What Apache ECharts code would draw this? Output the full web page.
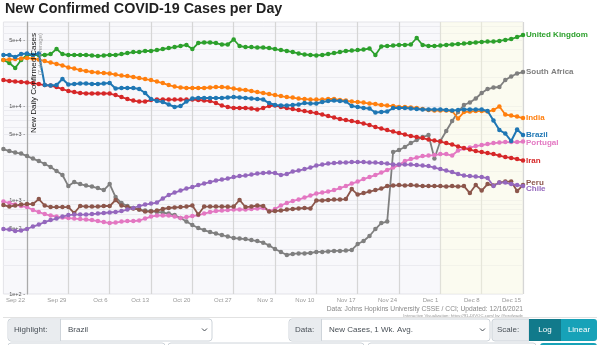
<!DOCTYPE html>
<html><head><meta charset="utf-8">
<script src="https://cdn.jsdelivr.net/npm/echarts@6/dist/echarts.min.js"></script>
<style>html,body{margin:0;padding:0;background:#fff}#chart{width:600px;height:345px}</style>
</head><body><div id="chart"></div>
<script>
const dates = ["Sep 18","Sep 19","Sep 20","Sep 21","Sep 22","Sep 23","Sep 24","Sep 25","Sep 26","Sep 27","Sep 28","Sep 29","Sep 30",
"Oct 1","Oct 2","Oct 3","Oct 4","Oct 5","Oct 6","Oct 7","Oct 8","Oct 9","Oct 10","Oct 11","Oct 12","Oct 13","Oct 14","Oct 15","Oct 16","Oct 17","Oct 18","Oct 19","Oct 20","Oct 21","Oct 22","Oct 23","Oct 24","Oct 25","Oct 26","Oct 27","Oct 28","Oct 29","Oct 30","Oct 31",
"Nov 1","Nov 2","Nov 3","Nov 4","Nov 5","Nov 6","Nov 7","Nov 8","Nov 9","Nov 10","Nov 11","Nov 12","Nov 13","Nov 14","Nov 15","Nov 16","Nov 17","Nov 18","Nov 19","Nov 20","Nov 21","Nov 22","Nov 23","Nov 24","Nov 25","Nov 26","Nov 27","Nov 28","Nov 29","Nov 30",
"Dec 1","Dec 2","Dec 3","Dec 4","Dec 5","Dec 6","Dec 7","Dec 8","Dec 9","Dec 10","Dec 11","Dec 12","Dec 13","Dec 14","Dec 15"];
const tickLabels = ["Sep 22","Sep 29","Oct 6","Oct 13","Oct 20","Oct 27","Nov 3","Nov 10","Nov 17","Nov 24","Dec 1","Dec 8","Dec 15"];
const yTickValues = [100,500,1000,5000,10000,50000];
const yTickLabels = ["1e+2","5e+2","1e+3","5e+3","1e+4","5e+4"];
const yGridValues = [200,300,400,500,600,700,800,900,1000,2000,3000,4000,5000,6000,7000,8000,9000,10000,20000,30000,40000,50000,60000,70000];
const recentStart = "Dec 1";

const unitedKingdom = [30900,28700,25400,30900,34900,34900,34900,34900,35700,40400,35700,34900,34900,34900,34900,34500,34000,34500,34900,34900,35700,36600,37500,37500,38500,38500,39400,40400,41400,42400,43500,44600,40400,46800,47400,47400,46800,45100,45100,51000,43500,42400,42400,41900,41900,41400,40400,39400,38500,37500,36200,35300,34900,34500,34900,35700,36600,37500,38500,38900,39400,39900,40900,34900,43000,43500,44000,44600,44600,45100,52900,44600,43500,43500,44000,44600,45100,45700,46200,46800,47400,48000,48500,48500,49200,50400,51600,54200,56900];
const southAfrica = [3485,3318,3200,3120,2935,2760,2597,2413,2242,2032,1843,1407,1552,1478,1425,1390,1340,1276,1478,1075,929,863,822,792,773,763,745,736,718,692,643,590,542,503,479,456,440,424,409,394,389,384,375,366,352,328,301,280,260,267,270,270,273,280,280,284,287,287,290,294,340,366,414,491,569,590,3238,3401,3660,4037,4345,4677,4911,2760,4240,5417,6922,8630,10245,10890,12010,13747,15162,15730,15924,18903,20600,22170,22997];
const india = [30900,31240,31600,32000,32400,32000,31200,30100,29000,28000,27000,25700,25050,24150,23570,23000,22700,22440,22170,21630,21100,20850,20350,19850,19370,18900,18220,17560,16720,16120,15730,15540,15540,15540,15540,15730,15920,15920,15730,15350,14980,14800,14440,14090,13750,13410,13090,12770,12460,12310,12010,11870,11720,11720,11720,11870,11870,11580,11440,11160,11030,10890,10630,10500,10250,10120,10000,9760,9760,9640,9520,9290,9060,8950,8950,8950,8840,7360,8630,8740,8840,8840,8740,9060,9880,8120,7920,7730,7450];
const brazil = [34880,34880,33210,35750,36190,34880,36190,16720,16520,16720,19370,16930,17140,17350,17350,17140,17140,17350,17560,15350,15540,15540,15540,15160,13750,11870,11300,11030,10370,9760,10000,11160,12010,12160,12160,12160,12160,12160,12310,12460,12310,12160,12010,11870,11720,10760,10250,10120,10120,10250,10370,10760,10630,10630,11030,11300,11440,11300,11160,10000,9760,9520,9400,8520,8630,8740,9520,9520,9520,9400,9290,9180,9180,9180,9180,9060,8950,9060,9180,9180,9180,9180,8840,7010,5550,5100,4240,5620,4910];
const portugal = [964,929,895,863,842,782,745,709,684,667,651,643,635,627,620,612,597,583,569,576,590,597,597,605,635,667,684,684,684,667,643,659,675,692,718,745,763,773,782,792,792,792,802,812,822,763,802,874,929,976,1011,1062,1115,1171,1200,1230,1276,1340,1407,1496,1571,1671,1754,1843,1959,2083,2214,2354,2597,2727,2830,2935,2971,3008,3083,3083,2971,3359,3528,3616,3751,3844,3939,4037,4087,4137,4137,4137,4188];
const iran = [18900,18450,18220,18000,17780,17560,17140,16720,16520,15920,15160,14440,14090,13750,13580,13580,13580,13580,13580,13090,12460,11870,11440,11160,11160,11580,11720,11720,11720,11720,11720,11720,11720,11580,11440,11300,10760,10120,9760,9520,9520,9520,9400,9180,9520,10000,10120,9760,9520,9290,9060,8840,8630,8420,8120,7820,7540,7270,7090,6920,6750,6510,6280,5980,5760,5550,5350,5160,4970,4790,4680,4560,4400,4290,4190,4040,3890,3710,3570,3440,3320,3240,3160,3080,2970,2860,2800,2730,2630];
const peru = [884,852,874,895,906,906,1023,874,842,842,842,842,727,863,852,852,852,863,863,1000,874,842,812,792,754,754,773,802,822,832,842,852,874,700,852,852,852,852,852,852,1000,842,852,874,863,754,763,773,792,802,812,822,812,988,988,1000,1011,1011,1023,1307,1143,1185,1230,1276,1323,1407,1425,1442,1425,1442,1425,1407,1407,1407,1407,1390,1407,1390,1407,1185,1442,1260,1478,1425,1533,1571,1571,1245,1442];
const chile = [491,485,468,473,491,522,548,583,612,635,667,692,700,700,700,709,718,727,736,745,763,792,822,863,895,917,940,1036,1129,1200,1260,1323,1373,1442,1496,1552,1610,1650,1691,1754,1798,1820,1865,1911,1935,1959,1935,1843,1888,2007,2057,2134,2214,2325,2383,2443,2473,2503,2503,2534,2534,2534,2503,2503,2473,2443,2383,2383,2383,2383,2354,2325,2297,2214,2134,2057,1983,1888,1820,1798,1776,1754,1712,1407,1533,1533,1478,1442,1407];

const FONT = "'Liberation Sans', Arial, Helvetica, sans-serif";
const Y_MIN = 100, Y_MAX = 78300;
const lg = Math.log10;
const countries = [
  {name:"United Kingdom", data:unitedKingdom, color:"#2ca02c", off:[0,0]},
  {name:"South Africa", data:southAfrica, color:"#7f7f7f", off:[0,0]},
  {name:"India", data:india, color:"#ff7f0e", off:[0,0]},
  {name:"Portugal", data:portugal, color:"#e377c2", off:[0,1]},
  {name:"Iran", data:iran, color:"#d62728", off:[0,0]},
  {name:"Peru", data:peru, color:"#8c564b", off:[0,-2]},
  {name:"Chile", data:chile, color:"#9467bd", off:[0,3]},
  {name:"Brazil", data:brazil, color:"#1f77b4", off:[0,0]}
];

const chart = echarts.init(document.getElementById('chart'), null, {renderer:'canvas'});
const isTick = (i, v) => tickLabels.indexOf(v) >= 0;

const series = [];
countries.forEach((c, k) => {
  const s = {
    name:c.name, type:'line', data:c.data.map(lg),
    symbol:'circle', symbolSize:4.5, showAllSymbol:true,
    lineStyle:{width: c.name==='Brazil' ? 2 : 1.8, color:c.color},
    itemStyle:{color:c.color},
    endLabel:{show:true, formatter:c.name, color:c.color, fontSize:8, fontWeight:'bold', fontFamily:FONT, distance:3, offset:c.off},
    emphasis:{disabled:true}, z: c.name==='Brazil' ? 4 : 3
  };
  if (k === 0) {
    s.markArea = {silent:true, itemStyle:{color:'rgba(255,255,225,0.4)'}, data:[[{xAxis:recentStart},{xAxis:dates[dates.length-1]}]]};
  }
  series.push(s);
});

function sel(x, w, labelW, label, value, chevron) {
  const els = [
    {type:'rect', shape:{x:x, y:319, width:w, height:22, r:3}, style:{fill:'#fff', stroke:'#ced4da', lineWidth:1}},
    {type:'rect', shape:{x:x+0.5, y:319.5, width:labelW, height:21, r:[3,0,0,3]}, style:{fill:'#e9ecef'}},
    {type:'line', shape:{x1:x+labelW+0.5, y1:319, x2:x+labelW+0.5, y2:341}, style:{stroke:'#ced4da', lineWidth:1}},
    {type:'text', x:x+6, y:330, style:{text:label, fill:'#495057', fontSize:8, fontFamily:FONT, textVerticalAlign:'middle', verticalAlign:'middle'}}
  ];
  if (value) {
    els.push({type:'text', x:x+labelW+8, y:330, style:{text:value, fill:'#495057', fontSize:8, fontFamily:FONT, textVerticalAlign:'middle', verticalAlign:'middle'}});
  }
  if (chevron) {
    els.push({type:'polyline', shape:{points:[[x+w-10,328.5],[x+w-7.5,331],[x+w-5,328.5]]}, style:{stroke:'#495057', lineWidth:1, fill:null}});
  }
  return els;
}

const graphics = [
  {type:'text', z:50, x:33.5, y:33, rotation:Math.PI/2, style:{text:'New Daily Confirmed Cases', fill:'#111', fontSize:8, fontFamily:FONT, textAlign:'right', align:'right', textVerticalAlign:'middle', verticalAlign:'middle'}},
  {type:'text', z:50, x:40.5, y:33, rotation:Math.PI/2, style:{text:'(7-day average)', fill:'#999', fontSize:6, fontFamily:FONT, textAlign:'right', align:'right', textVerticalAlign:'middle', verticalAlign:'middle'}},
  {type:'text', x:523, y:309, style:{text:'Data: Johns Hopkins University CSSE / CCI; Updated: 12/16/2021', fill:'#888', fontSize:6.7, fontFamily:FONT, textAlign:'right', align:'right', textVerticalAlign:'middle', verticalAlign:'middle'}},
  {type:'text', x:523, y:315.5, style:{text:'Interactive Visualization: https://91-DIVOC.com/ by @profwade', fill:'#999', fontSize:4.3, fontFamily:FONT, textAlign:'right', align:'right', textVerticalAlign:'middle', verticalAlign:'middle'}},
  {type:'line', shape:{x1:3, y1:317.5, x2:597, y2:317.5}, style:{stroke:'#e2e2e2', lineWidth:1}}
].concat(
  sel(8, 204, 52, 'Highlight:', 'Brazil', true),
  sel(289, 201, 32, 'Data:', 'New Cases, 1 Wk. Avg.', true),
  [
    {type:'rect', shape:{x:492, y:319, width:37, height:22, r:[3,0,0,3]}, style:{fill:'#e9ecef', stroke:'#ced4da', lineWidth:1}},
    {type:'text', x:497, y:330, style:{text:'Scale:', fill:'#495057', fontSize:8, fontFamily:FONT, textVerticalAlign:'middle', verticalAlign:'middle'}},
    {type:'rect', shape:{x:529, y:319, width:32, height:22}, style:{fill:'#117a8b'}},
    {type:'text', x:545, y:330, style:{text:'Log', fill:'#fff', fontSize:8, fontFamily:FONT, textAlign:'center', align:'center', textVerticalAlign:'middle', verticalAlign:'middle'}},
    {type:'rect', shape:{x:561, y:319, width:36, height:22, r:[0,3,3,0]}, style:{fill:'#17a2b8'}},
    {type:'text', x:579, y:330, style:{text:'Linear', fill:'#fff', fontSize:8, fontFamily:FONT, textAlign:'center', align:'center', textVerticalAlign:'middle', verticalAlign:'middle'}},
    {type:'rect', shape:{x:8, y:343, width:157, height:6, r:3}, style:{fill:'#fff', stroke:'#ced4da'}},
    {type:'rect', shape:{x:168, y:343, width:196, height:6, r:3}, style:{fill:'#fff', stroke:'#ced4da'}},
    {type:'rect', shape:{x:368, y:343, width:168, height:6, r:3}, style:{fill:'#fff', stroke:'#ced4da'}},
    {type:'rect', shape:{x:540, y:343, width:57, height:6, r:3}, style:{fill:'#17a2b8'}}
  ]
);

const option = {
  animation:false,
  backgroundColor:'#fff',
  textStyle:{fontFamily:FONT},
  title:{text:'New Confirmed COVID-19 Cases per Day', left:5, top:2, padding:0, textStyle:{fontSize:14.3, fontWeight:'bold', color:'#222', fontFamily:FONT}},
  grid:{left:3.4, right:77, top:22, bottom:51, show:true, backgroundColor:'#f8f8fb', borderColor:'#e3e3e8', borderWidth:1},
  xAxis:{type:'category', data:dates, boundaryGap:false,
    axisLine:{show:false}, axisTick:{show:false},
    axisLabel:{interval:isTick, align:'right', color:'#999', fontSize:6, margin:3, padding:[0,2,0,0], fontFamily:FONT},
    splitLine:{show:true, interval:isTick, lineStyle:{color:'#d6d6d6', width:1.2}}
  },
  yAxis:{type:'value', min:lg(Y_MIN), max:lg(Y_MAX), position:'left', offset:-23.6,
    axisLine:{show:true, onZero:false, lineStyle:{color:'#aaa', width:1.2}},
    axisTick:{show:false, customValues:yGridValues.map(lg)},
    axisLabel:{show:true, customValues:yTickValues.map(lg), color:'#555', fontSize:5.5, margin:2, fontFamily:FONT,
      formatter:(v) => { let best=0; yTickValues.forEach((t,i)=>{ if (Math.abs(lg(t)-v) < Math.abs(lg(yTickValues[best])-v)) best=i; }); return yTickLabels[best] + ' -'; }},
    splitLine:{show:true, lineStyle:{color:'#ebebf0', width:1}}
  },
  series: series,
  graphic: graphics
};
chart.setOption(option);
</script></body></html>
